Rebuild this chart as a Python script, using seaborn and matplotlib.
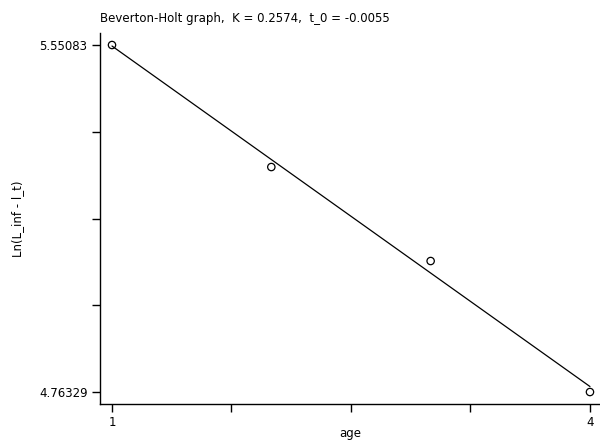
import numpy as np
import pandas as pd
import matplotlib
matplotlib.use('Agg')
import matplotlib.pyplot as plt
import seaborn as sns

# Data
age = [1, 2, 3, 4]
ln_diff = [5.55083, 5.2739, 5.0606, 4.76329]
y_ticks = [4.76329, 5.55083]
x_ticks = [1, 4]
title = "Beverton-Holt graph,  K = 0.2574,  t_0 = -0.0055"

df = pd.DataFrame({'age': age, 'ln': ln_diff})

sns.set_theme(style='ticks')
plt.rcParams['font.family'] = ['DejaVu Sans']
plt.rcParams['text.color'] = 'black'
plt.rcParams['axes.labelcolor'] = 'black'
plt.rcParams['xtick.color'] = 'black'
plt.rcParams['ytick.color'] = 'black'

fig = plt.figure(figsize=(6, 4.41), dpi=100)
ax = fig.add_axes([100 / 600, 37 / 441, 500 / 600, 371 / 441])

sns.regplot(data=df, x='age', y='ln', ax=ax, scatter=False, ci=None,
            color='black', line_kws={'linewidth': 0.9})
sns.scatterplot(data=df, x='age', y='ln', ax=ax, marker='o', s=28,
                facecolors='none', edgecolor='black', linewidth=0.9, zorder=3)

ax.set_xlim(0.9247, 4.063)
ax.set_ylim(4.7361, 5.5781)

# five evenly spaced ticks, only the ends labelled
xt = np.linspace(x_ticks[0], x_ticks[1], 5)
yt = np.linspace(y_ticks[0], y_ticks[1], 5)
ax.set_xticks(xt)
ax.set_xticklabels(['1', '', '', '', '4'])
ax.set_yticks(yt)
ax.set_yticklabels(['%.5f' % y_ticks[0], '', '', '', '%.5f' % y_ticks[1]])

ax.tick_params(axis='both', length=6, width=1, color='black', labelsize=8.5, pad=3)
for s in ['top', 'right']:
    ax.spines[s].set_visible(False)
for s in ['left', 'bottom']:
    ax.spines[s].set_color('black')
    ax.spines[s].set_linewidth(1)

ax.set_xlabel('age', fontsize=8.5, va='baseline')
ax.xaxis.set_label_coords(0.5, (404 - 437) / 371)
ax.set_ylabel('Ln(L_inf - l_t)', fontsize=8.5)
ax.yaxis.set_label_coords((24 - 100) / 500, 0.5)
ax.set_title(title, loc='left', fontsize=8.5, pad=8, color='black')

fig.savefig('out.png', dpi=100)
